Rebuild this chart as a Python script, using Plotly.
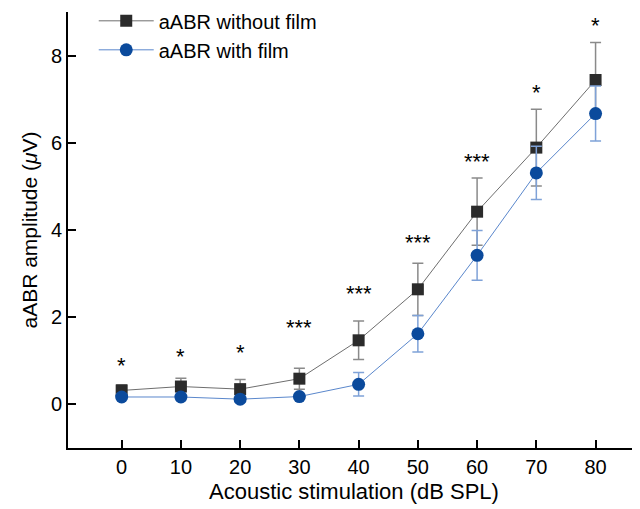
import plotly.graph_objects as go

spl = [0, 10, 20, 30, 40, 50, 60, 70, 80]
without_film = [0.32, 0.41, 0.35, 0.59, 1.47, 2.64, 4.42, 5.89, 7.44]
without_err = [0.13, 0.19, 0.22, 0.24, 0.44, 0.60, 0.77, 0.88, 0.86]
with_film = [0.17, 0.17, 0.12, 0.18, 0.46, 1.62, 3.42, 5.31, 6.67]
with_err = [0.06, 0.07, 0.07, 0.05, 0.27, 0.42, 0.57, 0.61, 0.63]
signif = ["*", "*", "*", "***", "***", "***", "***", "*", "*"]
signif_level = [0.96, 1.17, 1.26, 1.84, 2.62, 3.79, 5.65, 7.23, 8.75]

FONT = "Liberation Sans"

fig = go.Figure()
fig.add_trace(go.Scatter(
    x=spl, y=without_film, name="aABR without film", mode="lines+markers",
    line=dict(color="#6e6e6e", width=1),
    marker=dict(symbol="square", size=12, color="#2b2b2b"),
    error_y=dict(type="data", array=without_err, color="#8a8a8a", thickness=1.5, width=5.5),
))
fig.add_trace(go.Scatter(
    x=spl, y=with_film, name="aABR with film", mode="lines+markers",
    line=dict(color="#5a87cc", width=1),
    marker=dict(symbol="circle", size=13, color="#0b4a9c"),
    error_y=dict(type="data", array=with_err, color="#7fa2d8", thickness=1.5, width=5.5),
))

for x, lvl, s in zip(spl, signif_level, signif):
    fig.add_annotation(x=x, y=lvl, text=s, showarrow=False, yanchor="middle",
                       yshift=-3, font=dict(size=22, color="black", family=FONT))

# page body has an 8px margin, so the figure is 8px smaller than the window
fig.update_layout(
    width=632, height=501,
    margin=dict(l=60, r=0, t=4, b=61, autoexpand=False),
    paper_bgcolor="white", plot_bgcolor="white",
    font=dict(family=FONT, size=20, color="black"),
    showlegend=True,
    legend=dict(x=0.045, y=1.0245, xanchor="left", yanchor="top", bgcolor="rgba(0,0,0,0)",
                font=dict(size=20), itemwidth=55, tracegroupgap=0),
)
fig.update_xaxes(
    range=[-9.06, 87.5], tickvals=spl, ticks="inside", ticklen=8, tickwidth=1.5,
    tickcolor="black", showline=True, linecolor="black", linewidth=2, showgrid=False,
    zeroline=False, automargin=False, tickfont=dict(size=20),
    title=dict(text="Acoustic stimulation (dB SPL)", font=dict(size=22), standoff=7),
)
fig.update_yaxes(
    range=[-1, 9], tickvals=[0, 2, 4, 6, 8], ticks="inside", ticklen=8, tickwidth=1.5,
    tickcolor="black", showline=True, linecolor="black", linewidth=2, showgrid=False,
    zeroline=False, automargin=False, tickfont=dict(size=20),
    title=dict(text="aABR amplitude (<i>μ</i>V)", font=dict(size=21), standoff=8),
)
fig.write_html("out.html")
